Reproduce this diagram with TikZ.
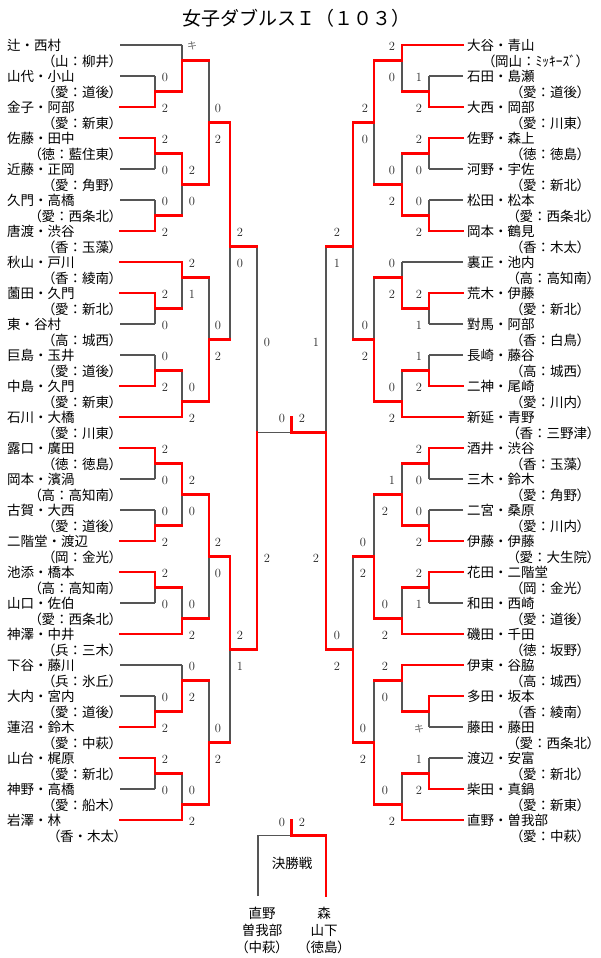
\documentclass[tikz,border=0pt]{standalone}
\usepackage{fontspec}
\newfontfamily\cjk{Noto Sans CJK JP}
\newfontfamily\cjkp[RawFeature=+palt]{Noto Sans CJK JP}
\pgfdeclarelayer{bg}
\pgfsetlayers{bg,main}
\definecolor{lgray}{RGB}{85,85,85}
\definecolor{bred}{RGB}{255,0,0}
\tikzset{
 win/.style={draw=bred, line width=2.6pt, line cap=rect},
 lose/.style={draw=lgray, line width=1.1pt},
 nm/.style={font=\cjk\fontsize{13.5}{15}\selectfont, inner sep=0pt},
 sub/.style={font=\cjk\fontsize{13.5}{15}\selectfont, inner sep=0pt},
 lab/.style={font=\fontsize{12.5}{12.5}\selectfont, text=black!85, inner sep=0pt},
 kilab/.style={font=\cjk\fontsize{10}{12}\selectfont, text=black!60, inner sep=0pt},
}
\newcommand\Jc[3]{\coordinate (#1) at (#2,{45+15.5*#3});}
\newcommand\segW[2]{\draw[win] (#1) -- (#2);}
\newcommand\segL[2]{\begin{pgfonlayer}{bg}\draw[lose] (#1) -- (#2);\end{pgfonlayer}}
\newcommand\pl[4]{\csname seg#3\endcsname{#1}{#1 -| #2}\csname seg#4\endcsname{#1 -| #2}{#2}}
\newcommand\mlt[4]{\node[lab] (#1t) at (#2,{46+15.5*(#3-1)}) {#4};}
\newcommand\mlb[4]{\node[lab] (#1b) at (#2,{46+15.5*(#3+1)}) {#4};}
\newcommand\ml[5]{\mlt{#1}{#2}{#3}{#4}\mlb{#1}{#2}{#3}{#5}}
\newcommand\subtx[3]{{\cjkp（}#1#2#3{\cjkp）}}
\begin{document}
\begin{tikzpicture}[x=1pt,y=-1pt]
\path[use as bounding box] (0,0) rectangle (600,958);
\node[font=\cjk\fontsize{19}{21}\selectfont, inner sep=0pt] (title) at (296.5,18) {女子ダブルスＩ（１０３）};
% entry line starts
\foreach \i in {0,...,25} {
  \coordinate (La\i) at (120,{45+31*\i});
  \coordinate (Ra\i) at (463,{45+31*\i});
}
% left names
\foreach \n [count=\i from 0] in {辻・西村,山代・小山,金子・阿部,佐藤・田中,近藤・正岡,久門・高橋,唐渡・渋谷,秋山・戸川,薗田・久門,東・谷村,巨島・玉井,中島・久門,石川・大橋,露口・廣田,岡本・濱渦,古賀・大西,二階堂・渡辺,池添・橋本,山口・佐伯,神澤・中井,下谷・藤川,大内・宮内,蓮沼・鈴木,山台・梶原,神野・高橋,岩澤・林}
  \node[nm, anchor=west] (nl\i) at (7,{45+31*\i}) {\n};
\foreach \pa/\sa/\pb/\xe [count=\i from 0] in {山/：/柳井/116,愛/：/道後/116,愛/：/新東/116,徳/：/藍住東/116,愛/：/角野/116,愛/：/西条北/116,香/：/玉藻/116,香/：/綾南/116,愛/：/新北/116,高/：/城西/116,愛/：/道後/116,愛/：/新東/116,愛/：/川東/116,徳/：/徳島/116,高/：/高知南/116,愛/：/道後/116,岡/：/金光/116,高/：/高知南/116,愛/：/西条北/116,兵/：/三木/116,兵/：/氷丘/116,愛/：/道後/116,愛/：/中萩/116,愛/：/新北/116,愛/：/船木/116,香/・/木太/121}
  \node[sub, anchor=east] (sl\i) at (\xe,{61+31*\i}) {\subtx{\pa}{\sa}{\pb}};
% right names
\foreach \n [count=\i from 0] in {大谷・青山,石田・島瀬,大西・岡部,佐野・森上,河野・宇佐,松田・松本,岡本・鶴見,裏正・池内,荒木・伊藤,對馬・阿部,長崎・藤谷,二神・尾崎,新延・青野,酒井・渋谷,三木・鈴木,二宮・桑原,伊藤・伊藤,花田・二階堂,和田・西崎,磯田・千田,伊東・谷脇,多田・坂本,藤田・藤田,渡辺・安富,柴田・真鍋,直野・曽我部}
  \node[nm, anchor=west] (nr\i) at (467,{45+31*\i}) {\n};
\foreach \pa/\sa/\pb/\xe [count=\i from 0] in {岡山/：/ﾐｯｷｰｽﾞ/583,愛/：/道後/584,愛/：/川東/584,徳/：/徳島/584,愛/：/新北/584,愛/：/西条北/594,香/：/木太/584,高/：/高知南/594,愛/：/新北/584,香/：/白鳥/584,高/：/城西/584,愛/：/川内/584,香/：/三野津/594,香/：/玉藻/584,愛/：/角野/584,愛/：/川内/584,愛/：/大生院/594,岡/：/金光/584,愛/：/道後/584,徳/：/坂野/584,高/：/城西/584,香/：/綾南/584,愛/：/西条北/594,愛/：/新北/584,愛/：/新東/584,愛/：/中萩/584}
  \node[sub, anchor=east] (sr\i) at (\xe,{61+31*\i}) {\subtx{\pa}{\sa}{\pb}};
% ---------- left bracket
\Jc{L1a}{155}{3}\pl{La1}{L1a}{L}{L}\pl{La2}{L1a}{W}{W}
\Jc{L2a}{182}{1}\pl{La0}{L2a}{L}{L}\pl{L1a}{L2a}{W}{W}
\Jc{L1b}{155}{7}\pl{La3}{L1b}{W}{W}\pl{La4}{L1b}{L}{L}
\Jc{L1c}{155}{11}\pl{La5}{L1c}{L}{L}\pl{La6}{L1c}{W}{W}
\Jc{L2b}{182}{9}\pl{L1b}{L2b}{W}{W}\pl{L1c}{L2b}{W}{L}
\Jc{L3a}{209}{5}\pl{L2a}{L3a}{W}{L}\pl{L2b}{L3a}{W}{W}
\Jc{L1d}{155}{17}\pl{La8}{L1d}{W}{W}\pl{La9}{L1d}{L}{L}
\Jc{L2c}{182}{15}\pl{La7}{L2c}{W}{W}\pl{L1d}{L2c}{W}{L}
\Jc{L1e}{155}{21}\pl{La10}{L1e}{L}{L}\pl{La11}{L1e}{W}{W}
\Jc{L2d}{182}{23}\pl{L1e}{L2d}{W}{L}\pl{La12}{L2d}{W}{W}
\Jc{L3b}{209}{19}\pl{L2c}{L3b}{W}{L}\pl{L2d}{L3b}{W}{W}
\Jc{L4a}{230}{13}\pl{L3a}{L4a}{W}{W}\pl{L3b}{L4a}{W}{L}
\Jc{L1f}{155}{27}\pl{La13}{L1f}{W}{W}\pl{La14}{L1f}{L}{L}
\Jc{L1g}{155}{31}\pl{La15}{L1g}{L}{L}\pl{La16}{L1g}{W}{W}
\Jc{L2e}{182}{29}\pl{L1f}{L2e}{W}{W}\pl{L1g}{L2e}{W}{L}
\Jc{L1h}{155}{35}\pl{La17}{L1h}{W}{W}\pl{La18}{L1h}{L}{L}
\Jc{L2f}{182}{37}\pl{L1h}{L2f}{W}{L}\pl{La19}{L2f}{W}{W}
\Jc{L3c}{209}{33}\pl{L2e}{L3c}{W}{W}\pl{L2f}{L3c}{W}{L}
\Jc{L1i}{155}{43}\pl{La21}{L1i}{L}{L}\pl{La22}{L1i}{W}{W}
\Jc{L2g}{182}{41}\pl{La20}{L2g}{L}{L}\pl{L1i}{L2g}{W}{W}
\Jc{L1j}{155}{47}\pl{La23}{L1j}{W}{W}\pl{La24}{L1j}{L}{L}
\Jc{L2h}{182}{49}\pl{L1j}{L2h}{W}{L}\pl{La25}{L2h}{W}{W}
\Jc{L3d}{209}{45}\pl{L2g}{L3d}{W}{L}\pl{L2h}{L3d}{W}{W}
\Jc{L4b}{230}{39}\pl{L3c}{L4b}{W}{W}\pl{L3d}{L4b}{W}{L}
\Jc{L5}{257}{25}\pl{L4a}{L5}{W}{L}\pl{L4b}{L5}{W}{W}
% ---------- right bracket
\Jc{R1a}{429}{3}\pl{Ra1}{R1a}{L}{L}\pl{Ra2}{R1a}{W}{W}
\Jc{R2a}{402}{1}\pl{Ra0}{R2a}{W}{W}\pl{R1a}{R2a}{W}{L}
\Jc{R1b}{429}{7}\pl{Ra3}{R1b}{W}{W}\pl{Ra4}{R1b}{L}{L}
\Jc{R1c}{429}{11}\pl{Ra5}{R1c}{L}{L}\pl{Ra6}{R1c}{W}{W}
\Jc{R2b}{402}{9}\pl{R1b}{R2b}{W}{L}\pl{R1c}{R2b}{W}{W}
\Jc{R3a}{374}{5}\pl{R2a}{R3a}{W}{W}\pl{R2b}{R3a}{W}{L}
\Jc{R1d}{429}{17}\pl{Ra8}{R1d}{W}{W}\pl{Ra9}{R1d}{L}{L}
\Jc{R2c}{402}{15}\pl{Ra7}{R2c}{L}{L}\pl{R1d}{R2c}{W}{W}
\Jc{R1e}{429}{21}\pl{Ra10}{R1e}{L}{L}\pl{Ra11}{R1e}{W}{W}
\Jc{R2d}{402}{23}\pl{R1e}{R2d}{W}{L}\pl{Ra12}{R2d}{W}{W}
\Jc{R3b}{374}{19}\pl{R2c}{R3b}{W}{L}\pl{R2d}{R3b}{W}{W}
\Jc{R4a}{353}{13}\pl{R3a}{R4a}{W}{W}\pl{R3b}{R4a}{W}{L}
\Jc{R1f}{429}{27}\pl{Ra13}{R1f}{W}{W}\pl{Ra14}{R1f}{L}{L}
\Jc{R1g}{429}{31}\pl{Ra15}{R1g}{L}{L}\pl{Ra16}{R1g}{W}{W}
\Jc{R2e}{402}{29}\pl{R1f}{R2e}{W}{L}\pl{R1g}{R2e}{W}{W}
\Jc{R1h}{429}{35}\pl{Ra17}{R1h}{W}{W}\pl{Ra18}{R1h}{L}{L}
\Jc{R2f}{402}{37}\pl{R1h}{R2f}{W}{L}\pl{Ra19}{R2f}{W}{W}
\Jc{R3c}{374}{33}\pl{R2e}{R3c}{W}{L}\pl{R2f}{R3c}{W}{W}
\Jc{R1i}{429}{43}\pl{Ra21}{R1i}{W}{W}\pl{Ra22}{R1i}{L}{L}
\Jc{R2g}{402}{41}\pl{Ra20}{R2g}{W}{W}\pl{R1i}{R2g}{W}{L}
\Jc{R1j}{429}{47}\pl{Ra23}{R1j}{L}{L}\pl{Ra24}{R1j}{W}{W}
\Jc{R2h}{402}{49}\pl{R1j}{R2h}{W}{L}\pl{Ra25}{R2h}{W}{W}
\Jc{R3d}{374}{45}\pl{R2g}{R3d}{W}{L}\pl{R2h}{R3d}{W}{W}
\Jc{R4b}{353}{39}\pl{R3c}{R4b}{W}{L}\pl{R3d}{R4b}{W}{W}
\Jc{R5}{326}{25}\pl{R4a}{R5}{W}{L}\pl{R4b}{R5}{W}{W}
% ---------- center final
\Jc{F}{291.5}{25}
\coordinate (Ft) at (291.5,417);
\pl{L5}{F}{L}{L}\pl{R5}{F}{W}{W}
\draw[win] (F) -- (Ft);
% ---------- left labels
\ml{l1a}{165}{3}{0}{2}
\node[kilab] (l2at) at (192,46) {キ};
\ml{l1b}{165}{7}{2}{0}
\ml{l1c}{165}{11}{0}{2}
\ml{l2b}{192}{9}{2}{0}
\ml{l3a}{218}{5}{0}{2}
\ml{l1d}{165}{17}{2}{0}
\ml{l2c}{192}{15}{2}{1}
\ml{l1e}{165}{21}{0}{2}
\ml{l2d}{192}{23}{0}{2}
\ml{l3b}{218}{19}{0}{2}
\ml{l4a}{240}{13}{2}{0}
\ml{l1f}{165}{27}{2}{0}
\ml{l1g}{165}{31}{0}{2}
\ml{l2e}{192}{29}{2}{0}
\ml{l1h}{165}{35}{2}{0}
\ml{l2f}{192}{37}{0}{2}
\ml{l3c}{218}{33}{2}{0}
\ml{l1i}{165}{43}{0}{2}
\ml{l2g}{192}{41}{0}{2}
\ml{l1j}{165}{47}{2}{0}
\ml{l2h}{192}{49}{0}{2}
\ml{l3d}{218}{45}{0}{2}
\ml{l4b}{240}{39}{2}{1}
\node[lab] (l5t) at (267,342) {0};
\node[lab] (l5b) at (267,558) {2};
% ---------- right labels
\ml{r1a}{419}{3}{1}{2}
\ml{r2a}{392}{1}{2}{0}
\ml{r1b}{419}{7}{2}{0}
\ml{r1c}{419}{11}{0}{2}
\ml{r2b}{392}{9}{0}{2}
\ml{r3a}{365}{5}{2}{0}
\ml{r1d}{419}{17}{2}{1}
\ml{r2c}{392}{15}{0}{2}
\ml{r1e}{419}{21}{1}{2}
\ml{r2d}{392}{23}{0}{2}
\ml{r3b}{365}{19}{0}{2}
\ml{r4a}{337}{13}{2}{1}
\ml{r1f}{419}{27}{2}{0}
\ml{r1g}{419}{31}{0}{2}
\mlt{r2e}{392}{29}{1}\mlb{r2e}{385}{29}{2}
\ml{r1h}{419}{35}{2}{1}
\ml{r2f}{385}{37}{0}{2}
\ml{r3c}{363}{33}{0}{2}
\node[kilab] (r1ib) at (419,729) {キ};
\ml{r2g}{385}{41}{2}{0}
\ml{r1j}{419}{47}{1}{2}
\mlt{r2h}{385}{49}{0}\mlb{r2h}{392}{49}{2}
\ml{r3d}{363}{45}{0}{2}
\ml{r4b}{337}{39}{0}{2}
\node[lab] (r5t) at (316,342) {1};
\node[lab] (r5b) at (316,558) {2};
\node[lab] (ftl) at (282,418) {0};
\node[lab] (ftr) at (302,418) {2};
% ---------- bottom final
\Jc{B}{291.5}{51}
\coordinate (Bt) at (291.5,820);
\coordinate (BL) at (258,896);
\coordinate (BR) at (326,896);
\begin{pgfonlayer}{bg}\draw[lose] (BL) |- (B);\end{pgfonlayer}
\draw[win] (BR) |- (B);
\draw[win] (B) -- (Bt);
\node[lab] (btl) at (282,822) {0};
\node[lab] (btr) at (302,822) {2};
\node[nm] (kessho) at (292,863) {決勝戦};
\node[font=\cjkp\fontsize{13.5}{17}\selectfont, inner sep=0pt, align=center] (bnl) at (262,930) {直野\\曽我部\\（中萩）};
\node[font=\cjkp\fontsize{13.5}{17}\selectfont, inner sep=0pt, align=center] (bnr) at (324,930) {森\\山下\\（徳島）};
\end{tikzpicture}
\end{document}
